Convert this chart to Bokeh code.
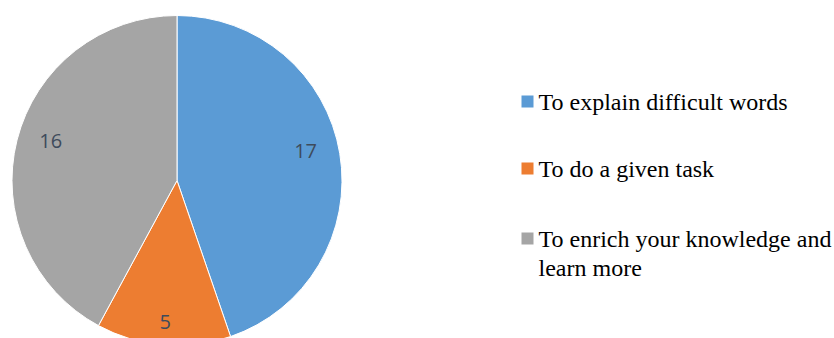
import math
from bokeh.plotting import figure
from bokeh.models import Range1d, ColumnDataSource
from bokeh.core.properties import value
from bokeh.embed import file_html
from bokeh.resources import INLINE

# ---- data ----
categories = ["To explain difficult words", "To do a given task", "To enrich your knowledge and\nlearn more"]
counts = [17, 5, 16]
colors = ["#5B9BD5", "#ED7D31", "#A5A5A5"]

# ---- layout ----
W, H = 834, 338
cx, cy_px, R = 176.5, 180, 165
label_r = [0.79, 0.86, 0.79]
label_dy = [-8, 0, -8]
legend_y_px = [101, 168, 238]
legend_x = 527
line_gap = 29

p = figure(width=W, height=H, x_range=Range1d(0, W), y_range=Range1d(0, H),
           output_backend="svg", toolbar_location=None, min_border=0)
p.axis.visible = False
p.grid.visible = False
p.outline_line_color = None
p.background_fill_color = "white"
p.border_fill_color = "white"

cy = H - cy_px
total = sum(counts)
starts, ends, lx, ly = [], [], [], []
acc = 0.0
for i, c in enumerate(counts):
    a0 = acc / total * 2 * math.pi
    acc += c
    a1 = acc / total * 2 * math.pi
    starts.append(math.pi / 2 - a0)
    ends.append(math.pi / 2 - a1)
    mid = (a0 + a1) / 2
    r = label_r[i] * R
    lx.append(cx + r * math.sin(mid))
    ly.append(cy + r * math.cos(mid) - label_dy[i])

src = ColumnDataSource(dict(start=starts, end=ends, color=colors))
p.wedge(x=cx, y=cy, radius=R, start_angle="start", end_angle="end",
        direction="clock", fill_color="color", line_color="white",
        line_width=1, source=src)

p.text(x=lx, y=ly, text=[str(c) for c in counts], text_font=value("Open Sans"),
       text_font_size="20px", text_color="#3E4B5C", text_align="center",
       text_baseline="middle")

# legend
for i, cat in enumerate(categories):
    y = H - legend_y_px[i]
    p.rect(x=legend_x, y=y, width=12, height=12, fill_color=colors[i], line_color=None)
    for j, line in enumerate(cat.split("\n")):
        p.text(x=[538], y=[y - j * line_gap], text=[line],
               text_font=value("Times New Roman"), text_font_size="24px",
               text_color="#000000", text_align="left", text_baseline="middle")

open("out.html", "w").write(file_html(p, INLINE))
